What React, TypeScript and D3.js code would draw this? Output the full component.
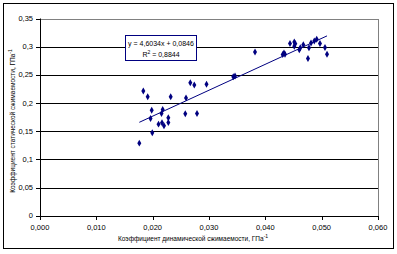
import React from "react";
import * as d3 from "d3";

const xValues = [0.01763, 0.01834, 0.01912, 0.01962, 0.01983, 0.01993, 0.02104, 0.02157, 0.02166, 0.02178, 0.02201, 0.02278, 0.02278, 0.0232, 0.02579, 0.02592, 0.02668, 0.02739, 0.02787, 0.02956, 0.03431, 0.03462, 0.03817, 0.04308, 0.04331, 0.04349, 0.04438, 0.04514, 0.04532, 0.04514, 0.04603, 0.04621, 0.04674, 0.04757, 0.04775, 0.04811, 0.04869, 0.04912, 0.0497, 0.05059, 0.05095];
const yValues = [0.1288, 0.2215, 0.2112, 0.1726, 0.1873, 0.1471, 0.1625, 0.1815, 0.1648, 0.1886, 0.1598, 0.174, 0.1655, 0.2112, 0.1808, 0.2091, 0.236, 0.2321, 0.1815, 0.2334, 0.2467, 0.2481, 0.2906, 0.286, 0.2889, 0.2866, 0.3055, 0.3084, 0.3052, 0.3007, 0.2945, 0.2981, 0.3034, 0.2789, 0.2981, 0.3066, 0.3099, 0.3131, 0.3055, 0.2984, 0.2866];
const xTicks = [0, 0.01, 0.02, 0.03, 0.04, 0.05, 0.06];
const xTickLabels = ["0,000", "0,010", "0,020", "0,030", "0,040", "0,050", "0,060"];
const yTicks = [0, 0.05, 0.1, 0.15, 0.2, 0.25, 0.3, 0.35];
const yTickLabels = ["0", "0,05", "0,1", "0,15", "0,2", "0,25", "0,3", "0,35"];
const slope = 4.6034;
const intercept = 0.0846;
const equationText = "y = 4,6034x + 0,0846";
const r2Text = "R";
const r2Value = " = 0,8844";
const xTitle = "Коэффициент динамической сжимаемости, ГПа";
const yTitle = "Коэффициент статической сжимаемости, ГПа";

export default function App() {
  const W = 397, H = 254;
  const L = 40, R = 378, T = 18.5, B = 215.7;
  const x = d3.scaleLinear().domain([0, 0.06]).range([L, R]);
  const y = d3.scaleLinear().domain([0, 0.35]).range([B, T]);
  const xMin = d3.min(xValues) as number;
  const xMax = d3.max(xValues) as number;
  const line = d3.line<number>().x((d) => x(d)).y((d) => y(slope * d + intercept));
  const diamond = d3.symbol().type(d3.symbolDiamond).size(14)() as string;
  const font = "Arial, 'Liberation Sans', sans-serif";
  return (
    <svg width={W} height={H} style={{ position: "absolute", left: 0, top: 0, background: "#fff" }} fontFamily={font}>
      <rect x={0} y={0} width={W} height={H} fill="#fff" />
      <rect x={3.5} y={3.5} width={390} height={245} fill="#fff" stroke="#000" strokeWidth={1} />
      {yTicks.filter((t) => t > 0 && t < 0.35).map((t) => (
        <line key={"g" + t} x1={L} x2={R} y1={Math.round(y(t)) + 0.5} y2={Math.round(y(t)) + 0.5} stroke="#000" strokeWidth={1} />
      ))}
      <rect x={L + 0.5} y={Math.round(T) + 0.5} width={R - L} height={Math.round(B) - Math.round(T)} fill="none" stroke="#808080" strokeWidth={1} />
      <line x1={L + 0.5} x2={L + 0.5} y1={T} y2={Math.round(B) + 0.5} stroke="#000" />
      <line x1={L} x2={R + 0.5} y1={Math.round(B) + 0.5} y2={Math.round(B) + 0.5} stroke="#000" />
      {yTicks.map((t, i) => (
        <g key={"y" + t}>
          <line x1={L - 4} x2={L} y1={Math.round(y(t)) + 0.5} y2={Math.round(y(t)) + 0.5} stroke="#000" />
          <text x={33} y={y(t) + 2.5} fontSize={7.5} textAnchor="end" fill="#000">{yTickLabels[i]}</text>
        </g>
      ))}
      {xTicks.map((t, i) => (
        <g key={"x" + t}>
          <line x1={Math.round(x(t)) + 0.5} x2={Math.round(x(t)) + 0.5} y1={Math.round(B)} y2={Math.round(B) + 4} stroke="#000" />
          <text x={x(t)} y={230} fontSize={7.5} textAnchor="middle" fill="#000">{xTickLabels[i]}</text>
        </g>
      ))}
      <path d={line([xMin, xMax]) as string} fill="none" stroke="#000080" strokeWidth={1} />
      {xValues.map((v, i) => (
        <path key={"p" + i} d={diamond} transform={`translate(${x(v)},${y(yValues[i])})`} fill="#000080" />
      ))}
      <rect x={125.5} y={35.5} width={71} height={25} fill="#fff" stroke="#000080" strokeWidth={1} />
      <text x={161} y={45.5} fontSize={7} textAnchor="middle" fill="#000">{equationText}</text>
      <text x={161} y={56.5} fontSize={7} textAnchor="middle" fill="#000">
        {r2Text}<tspan dy={-3} fontSize={5}>2</tspan><tspan dy={3}>{r2Value}</tspan>
      </text>
      <text x={193} y={241} fontSize={6.5} textAnchor="middle" fill="#000">
        {xTitle}<tspan dy={-3} fontSize={5}>-1</tspan>
      </text>
      <text transform="translate(15,121) rotate(-90)" fontSize={6.5} textAnchor="middle" fill="#000">
        {yTitle}<tspan dy={-3} fontSize={5}>-1</tspan>
      </text>
    </svg>
  );
}
